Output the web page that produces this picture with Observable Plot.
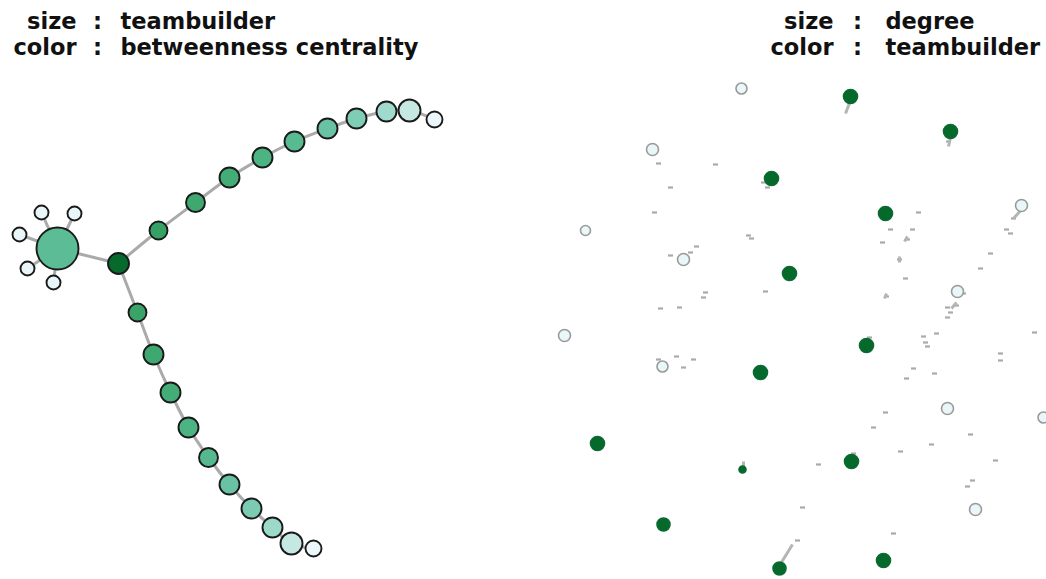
<!DOCTYPE html>
<html><head><meta charset="utf-8">
<script src="https://cdn.jsdelivr.net/npm/d3@7"></script>
<script src="https://cdn.jsdelivr.net/npm/@observablehq/plot@0.6"></script>
<style>
body{margin:0;background:#fff}
#wrap{display:flex;width:1046px;height:579px;overflow:hidden}
</style>
</head><body><div id="wrap"></div>
<script>
// ---------- titles ----------
const titleKeys = ["size", "color"];
const leftTitleValues = ["teambuilder", "betweenness centrality"];
const rightTitleValues = ["degree", "teambuilder"];

// ---------- left network (layout coordinates in px) ----------
// 0 hub, 1-5 leaves, 6 bridge, 7-16 upper arm, 17-26 lower arm
const leftX = [57, 41, 74, 19, 27, 53, 118,
  158, 195, 229, 262, 294, 327, 356, 386, 409, 434,
  137, 153, 170, 188, 208, 229, 251, 272, 291, 313];
const leftY = [248, 212, 213, 234, 268, 282, 263,
  230, 202, 177, 157, 141, 128, 118, 111, 110, 119,
  312, 354, 392, 427, 457, 484, 508, 527, 543, 548];
const leftTeambuilder = [21, 7, 7, 7, 7, 7, 10.5,
  9, 9.5, 10, 10, 10, 10, 10, 10, 11, 8,
  9, 10, 10, 10, 9.5, 10, 10, 10, 11, 8];
const leftBetweenness = [0.54, 0.1, 0.1, 0.1, 0.1, 0.1, 0.88,
  0.67, 0.64, 0.62, 0.59, 0.55, 0.5, 0.44, 0.36, 0.26, 0.08,
  0.66, 0.64, 0.62, 0.59, 0.56, 0.5, 0.45, 0.37, 0.26, 0.08];
const leftSpokes = [1, 2, 3, 4, 5];
const leftPaths = [[0, 6], [6, 7, 8, 9, 10, 11, 12, 13, 14, 15, 16], [6, 17, 18, 19, 20, 21, 22, 23, 24, 25, 26]];

// ---------- right network ----------
const rightX = [741, 652, 1021, 585, 683, 957, 564, 662, 947, 1043, 975,
  850, 950, 771, 885, 789, 866, 760, 597, 851, 742, 663, 883, 779];
const rightY = [88, 149, 205, 230, 259, 291, 335, 366, 408, 417, 509,
  96, 131, 178, 213, 273, 345, 372, 443, 461, 469, 524, 560, 568];
const rightDegree = [5.5, 6, 6, 5, 6, 6, 6, 5.5, 6, 5.5, 6,
  7, 7, 7, 7, 7, 7, 7, 7, 7, 3.5, 6.5, 7, 6.5];
const rightTeambuilder = [0, 0, 0, 0, 0, 0, 0, 0, 0, 0, 0,
  1, 1, 1, 1, 1, 1, 1, 1, 1, 1, 1, 1, 1];
// short edge fragments
const stubX = [658, 715, 670, 654, 748, 751, 696, 690, 670, 705, 703, 765, 660, 679, 763, 767,
  918, 890, 912, 882, 907, 899, 905, 886, 1013, 1006, 1010, 990, 980, 963, 956, 947, 950, 947,
  658, 676, 693, 683, 869, 923, 936, 925, 927, 1034, 1000, 1000, 913, 906, 934, 885, 873, 900,
  931, 970, 995, 972, 967, 818, 802, 893, 797, 853, 948];
const stubY = [163, 164, 187, 212, 235, 238, 246, 252, 255, 292, 297, 291, 308, 307, 182, 187,
  212, 229, 229, 242, 239, 259, 278, 296, 218, 229, 233, 253, 268, 293, 305, 307, 312, 317,
  359, 356, 359, 367, 337, 336, 333, 342, 346, 332, 353, 360, 368, 378, 373, 412, 427, 451,
  444, 434, 460, 480, 486, 464, 507, 533, 540, 453, 141];
// longer edge pieces
const segX1 = [850, 950, 779, 743, 1021, 907, 899, 886, 956];
const segY1 = [100, 137, 565, 461, 209, 236, 256, 293, 302];
const segX2 = [845, 948, 792, 743, 1013, 904, 899, 884, 951];
const segY2 = [113, 146, 544, 466, 218, 241, 262, 298, 308];

// ---------- build tables ----------
const leftNodes = leftX.map((x, i) => ({x, y: leftY[i], tb: leftTeambuilder[i], bc: leftBetweenness[i]}));
const spokeLinks = leftSpokes.map(i => ({x1: leftX[0], y1: leftY[0], x2: leftX[i], y2: leftY[i]}));
const pathPts = leftPaths.flatMap((p, k) => p.map(i => ({x: leftX[i], y: leftY[i], k})));
const rightNodes = rightX.map((x, i) => ({x, y: rightY[i], deg: rightDegree[i], tb: rightTeambuilder[i]}));
const stubs = stubX.map((x, i) => ({x, y: stubY[i]}));
const segs = segX1.map((x1, i) => ({x1, y1: segY1[i], x2: segX2[i], y2: segY2[i]}));
const titleRows = titleKeys.map((k, i) => ({k, row: i, lv: leftTitleValues[i], rv: rightTitleValues[i]}));

const font = {fontFamily: "DejaVu Sans", fontWeight: "bold", fontSize: 22.5};
const rowY = d => 21 + d.row * 26;

function titleMarks(xKey, xColon, xVal, valKey) {
  return [
    Plot.text(titleRows, {x: () => xKey, y: rowY, text: "k", textAnchor: "end", ...font, fill: "#111"}),
    Plot.text(titleRows, {x: () => xColon, y: rowY, text: () => ":", textAnchor: "middle", ...font, fill: "#111"}),
    Plot.text(titleRows, {x: () => xVal, y: rowY, text: valKey, textAnchor: "start", ...font, fill: "#111"})
  ];
}

const left = Plot.plot({
  width: 523, height: 579, margin: 0,
  x: {domain: [0, 523], range: [0, 523], axis: null},
  y: {domain: [0, 579], range: [0, 579], axis: null},
  r: {type: "linear", domain: [0, 21], range: [0, 21]},
  color: {type: "linear", scheme: "BuGn", domain: [0, 1]},
  style: {fontFamily: "DejaVu Sans", background: "#fff"},
  marks: [
    Plot.link(spokeLinks, {x1: "x1", y1: "y1", x2: "x2", y2: "y2", stroke: "#aaa", strokeWidth: 3}),
    Plot.line(pathPts, {x: "x", y: "y", z: "k", curve: "catmull-rom", stroke: "#aaa", strokeWidth: 3}),
    Plot.dot(leftNodes, {x: "x", y: "y", r: "tb", fill: "bc", stroke: "#1a1a1a", strokeWidth: 1.9}),
    ...titleMarks(76, 97, 120, "lv")
  ]
});

const right = Plot.plot({
  width: 523, height: 579, margin: 0,
  x: {domain: [523, 1046], range: [0, 523], axis: null},
  y: {domain: [0, 579], range: [0, 579], axis: null},
  r: {type: "linear", domain: [0, 7], range: [0, 7]},
  color: {type: "linear", scheme: "BuGn", domain: [-0.12, 1.15]},
  style: {fontFamily: "DejaVu Sans", background: "#fff", overflow: "visible"},
  marks: [
    Plot.link(stubs, {x1: d => d.x - 2.5, x2: d => d.x + 2.5, y1: "y", y2: "y", stroke: "#aaa", strokeWidth: 2.2}),
    Plot.link(segs, {x1: "x1", y1: "y1", x2: "x2", y2: "y2", stroke: "#b5b5b5", strokeWidth: 3}),
    Plot.dot(rightNodes, {x: "x", y: "y", r: "deg", fill: "tb", stroke: d => d.tb ? "#0a6a30" : "#9a9a9a", strokeWidth: 1.6}),
    ...titleMarks(833, 857, 885, "rv")
  ]
});

document.getElementById("wrap").append(left, right);
</script>
</body></html>
